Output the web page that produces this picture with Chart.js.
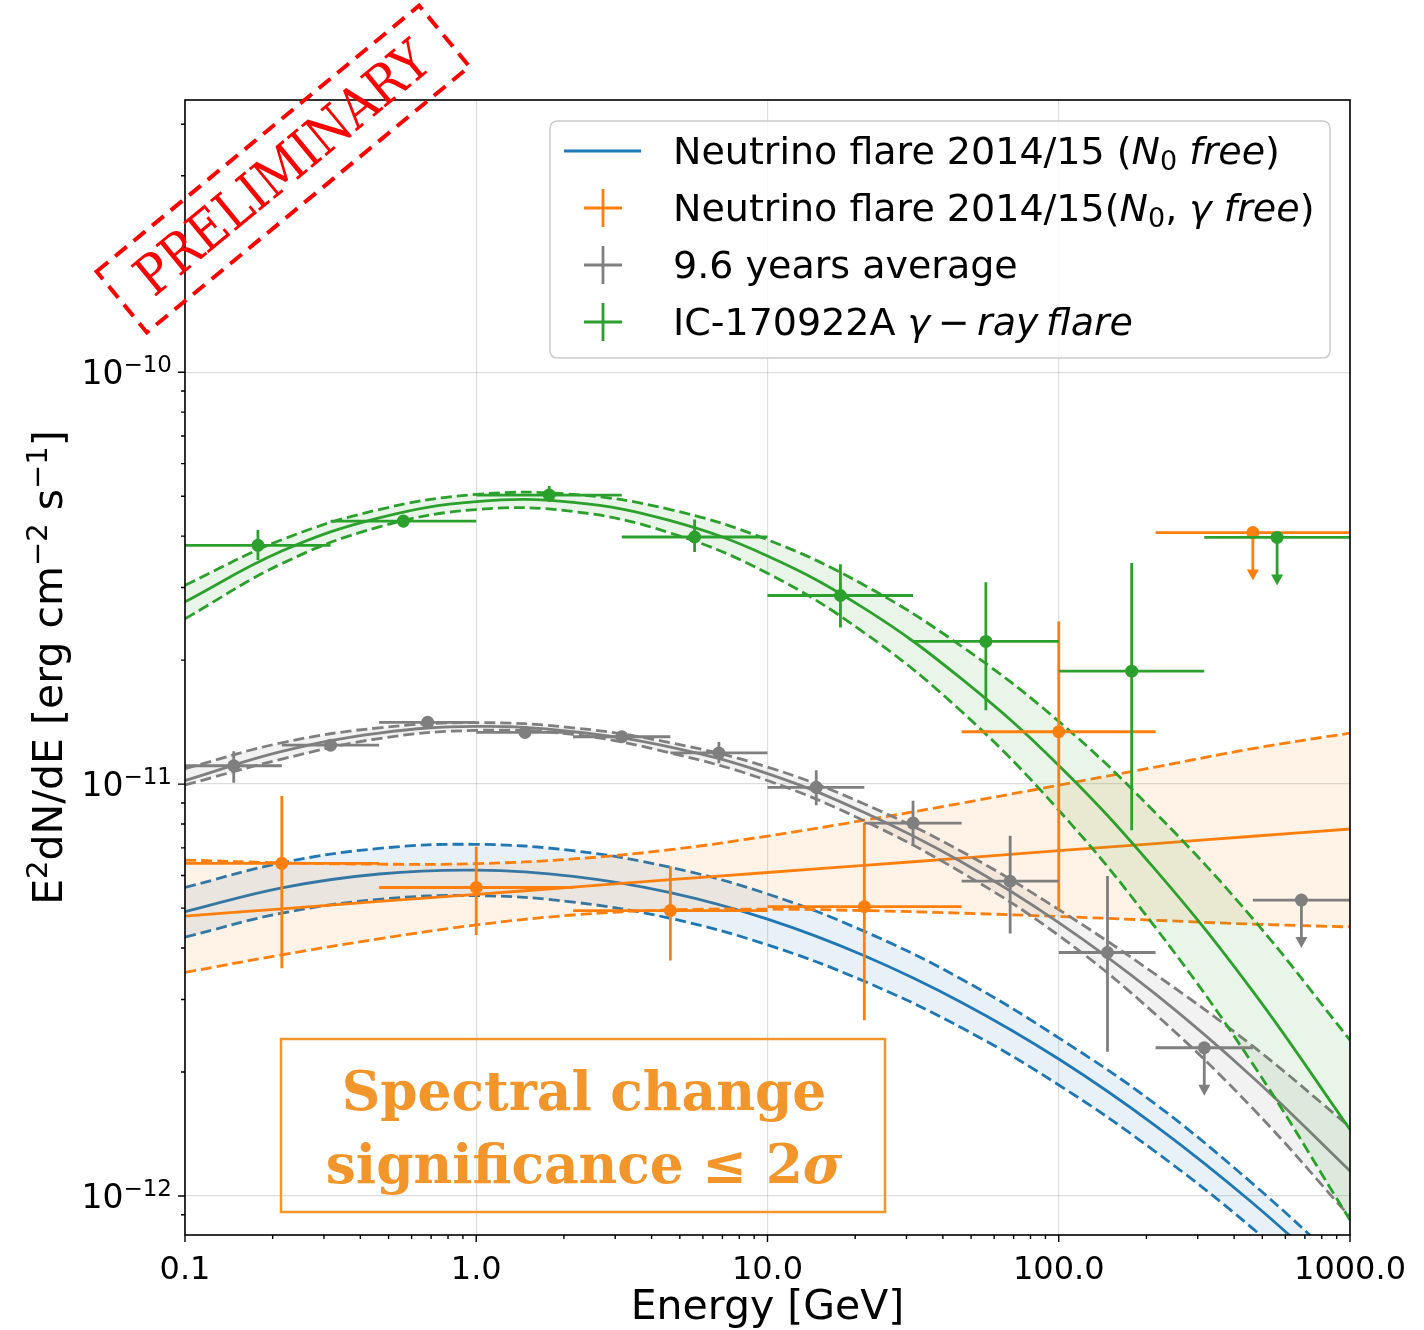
<!DOCTYPE html>
<html>
<head>
<meta charset="utf-8">
<script src="https://cdn.jsdelivr.net/npm/chart.js@4.4.1/dist/chart.umd.min.js"></script>
<style>
  body { margin: 0; background: #fff; }
  canvas { display: block; }
</style>
</head>
<body>
<canvas id="sedChart" width="1424" height="1330"></canvas>
<script>
var sampleE = [0.1, 0.215, 0.464, 1, 2.15, 4.64, 10, 21.5, 46.4, 100, 215, 464, 1000];

// fitted spectra (erg cm-2 s-1): best fit, upper and lower edge of the band
var greenFit   = [2.77e-11, 3.68e-11, 4.43e-11, 4.85e-11, 4.83e-11, 4.36e-11, 3.58e-11, 2.67e-11, 1.80e-11, 1.11e-11, 6.19e-12, 3.14e-12, 1.45e-12];
var greenFitHi = [3.04e-11, 3.92e-11, 4.64e-11, 5.05e-11, 5.05e-11, 4.64e-11, 3.92e-11, 3.04e-11, 2.16e-11, 1.42e-11, 8.51e-12, 4.71e-12, 2.39e-12];
var greenFitLo = [2.52e-11, 3.43e-11, 4.21e-11, 4.64e-11, 4.59e-11, 4.07e-11, 3.25e-11, 2.33e-11, 1.50e-11, 8.64e-12, 4.48e-12, 2.09e-12, 8.74e-13];

var grayFit    = [1.02e-11, 1.20e-11, 1.33e-11, 1.38e-11, 1.34e-11, 1.23e-11, 1.06e-11, 8.53e-12, 6.47e-12, 4.61e-12, 3.09e-12, 1.94e-12, 1.15e-12];
var grayFitHi  = [1.09e-11, 1.26e-11, 1.37e-11, 1.41e-11, 1.37e-11, 1.26e-11, 1.10e-11, 8.95e-12, 6.86e-12, 4.96e-12, 3.45e-12, 2.31e-12, 1.47e-12];
var grayFitLo  = [9.95e-12, 1.15e-11, 1.29e-11, 1.35e-11, 1.32e-11, 1.19e-11, 1.02e-11, 8.14e-12, 6.10e-12, 4.29e-12, 2.76e-12, 1.63e-12, 8.90e-13];

var blueFit    = [4.90e-12, 5.60e-12, 6.05e-12, 6.18e-12, 5.97e-12, 5.45e-12, 4.70e-12, 3.83e-12, 2.95e-12, 2.15e-12, 1.48e-12, 9.60e-13, 5.90e-13];
var blueFitHi  = [5.61e-12, 6.44e-12, 6.98e-12, 7.14e-12, 6.89e-12, 6.28e-12, 5.41e-12, 4.39e-12, 3.36e-12, 2.42e-12, 1.67e-12, 1.07e-12, 6.54e-13];
var blueFitLo  = [4.25e-12, 4.86e-12, 5.25e-12, 5.36e-12, 5.17e-12, 4.72e-12, 4.07e-12, 3.32e-12, 2.56e-12, 1.86e-12, 1.28e-12, 8.33e-13, 5.12e-13];

var orangeFit   = [4.78e-12, 4.98e-12, 5.19e-12, 5.40e-12, 5.62e-12, 5.86e-12, 6.10e-12, 6.35e-12, 6.61e-12, 6.89e-12, 7.17e-12, 7.47e-12, 7.78e-12];
var orangeFitHi = [6.54e-12, 6.44e-12, 6.39e-12, 6.41e-12, 6.58e-12, 6.93e-12, 7.48e-12, 8.17e-12, 8.99e-12, 9.94e-12, 1.10e-11, 1.22e-11, 1.33e-11];
var orangeFitLo = [3.49e-12, 3.85e-12, 4.21e-12, 4.55e-12, 4.81e-12, 4.95e-12, 4.97e-12, 4.93e-12, 4.86e-12, 4.77e-12, 4.67e-12, 4.57e-12, 4.50e-12];

// flux points: bin centre, bin edges, flux and error bar ends
var greenE      = [0.178, 0.562, 1.78, 5.62, 17.8, 56.2, 178];
var greenELo    = [0.1, 0.316, 1, 3.16, 10, 31.6, 100];
var greenEHi    = [0.316, 1, 3.16, 10, 31.6, 100, 316];
var greenFlux   = [3.80e-11, 4.35e-11, 5.03e-11, 3.98e-11, 2.87e-11, 2.22e-11, 1.88e-11];
var greenFluxLo = [3.50e-11, 4.20e-11, 4.84e-11, 3.66e-11, 2.40e-11, 1.51e-11, 7.73e-12];
var greenFluxHi = [4.14e-11, 4.50e-11, 5.29e-11, 4.39e-11, 3.42e-11, 3.09e-11, 3.44e-11];
var greenUlE = [562], greenUlELo = [316], greenUlEHi = [1000], greenUl = [3.97e-11];

var orangeE      = [0.215, 1.0, 4.64, 21.5, 100];
var orangeELo    = [0.1, 0.464, 2.15, 10, 46.4];
var orangeEHi    = [0.464, 2.15, 10, 46.4, 215];
var orangeFlux   = [6.42e-12, 5.61e-12, 4.93e-12, 5.04e-12, 1.34e-11];
var orangeFluxLo = [3.57e-12, 4.30e-12, 3.73e-12, 2.67e-12, 4.93e-12];
var orangeFluxHi = [9.35e-12, 7.04e-12, 6.32e-12, 8.05e-12, 2.48e-11];
var orangeUlE = [464], orangeUlELo = [215], orangeUlEHi = [1000], orangeUl = [4.08e-11];

var grayE      = [0.147, 0.316, 0.681, 1.47, 3.16, 6.81, 14.7, 31.6, 68.1, 147];
var grayELo    = [0.1, 0.215, 0.464, 1, 2.15, 4.64, 10, 21.5, 46.4, 100];
var grayEHi    = [0.215, 0.464, 1, 2.15, 4.64, 10, 21.5, 46.4, 100, 215];
var grayFlux   = [1.108e-11, 1.243e-11, 1.412e-11, 1.335e-11, 1.303e-11, 1.19e-11, 9.82e-12, 8.04e-12, 5.81e-12, 3.90e-12];
var grayFluxLo = [1.007e-11, 1.21e-11, 1.38e-11, 1.30e-11, 1.27e-11, 1.124e-11, 8.89e-12, 7.09e-12, 4.34e-12, 2.24e-12];
var grayFluxHi = [1.202e-11, 1.28e-11, 1.46e-11, 1.37e-11, 1.33e-11, 1.266e-11, 1.081e-11, 9.11e-12, 7.49e-12, 5.98e-12];
var grayUlE = [316, 681], grayUlELo = [215, 464], grayUlEHi = [464, 1000], grayUl = [2.29e-12, 5.23e-12];

// axes
var xTicks = [0.1, 1, 10, 100, 1000];
var xTickLabels = ['0.1', '1.0', '10.0', '100.0', '1000.0'];
var yTicks = [1e-12, 1e-11, 1e-10];
var yTickExp = ['\u221212', '\u221211', '\u221210'];
var yMin = 8.04e-13, yMax = 4.58e-10;

var cBlue = '#1f77b4', cOrange = '#ff7f0e', cGray = '#7f7f7f', cGreen = '#2ca02c';
var sans = '"DejaVu Sans", sans-serif';

function curve(ys, color, dashed, fillColor) {
    return {
        data: sampleE.map(function (e, i) { return { x: e, y: ys[i] }; }),
        borderColor: color,
        borderWidth: 2.8,
        borderDash: dashed ? [11, 5] : [],
        pointRadius: 0,
        tension: 0.4,
        fill: fillColor ? '+1' : false,
        backgroundColor: fillColor || 'transparent'
    };
}

// first dataset is drawn on top
var datasets = [
    curve(greenFit, cGreen, false),
    curve(greenFitHi, cGreen, true, 'rgba(44,160,44,0.1)'),
    curve(greenFitLo, cGreen, true),
    curve(grayFit, cGray, false),
    curve(grayFitHi, cGray, true, 'rgba(127,127,127,0.1)'),
    curve(grayFitLo, cGray, true),
    curve(orangeFit, cOrange, false),
    curve(orangeFitHi, cOrange, true, 'rgba(255,127,14,0.1)'),
    curve(orangeFitLo, cOrange, true),
    curve(blueFit, cBlue, false),
    curve(blueFitHi, cBlue, true, 'rgba(31,119,180,0.1)'),
    curve(blueFitLo, cBlue, true)
];

// write a line made of several font runs
function runs(ctx, parts, x, y, align) {
    var w = 0;
    parts.forEach(function (p) { ctx.font = p.f; p.w = ctx.measureText(p.t).width; w += p.w; });
    var cx = align === 'center' ? x - w / 2 : (align === 'right' ? x - w : x);
    ctx.textAlign = 'left';
    ctx.textBaseline = 'alphabetic';
    parts.forEach(function (p) { ctx.font = p.f; ctx.fillText(p.t, cx, y + (p.dy || 0)); cx += p.w; });
}

function errSeries(ctx, xs, ys, E, eLo, eHi, f, fLo, fHi, color) {
    ctx.strokeStyle = color; ctx.fillStyle = color; ctx.lineWidth = 2.8;
    for (var i = 0; i < E.length; i++) {
        var px = xs.getPixelForValue(E[i]), py = ys.getPixelForValue(f[i]);
        ctx.beginPath();
        ctx.moveTo(xs.getPixelForValue(eLo[i]), py); ctx.lineTo(xs.getPixelForValue(eHi[i]), py);
        ctx.moveTo(px, ys.getPixelForValue(fLo[i])); ctx.lineTo(px, ys.getPixelForValue(fHi[i]));
        ctx.stroke();
        ctx.beginPath(); ctx.arc(px, py, 6.5, 0, Math.PI * 2); ctx.fill();
    }
}

function ulSeries(ctx, xs, ys, E, eLo, eHi, f, color) {
    ctx.strokeStyle = color; ctx.fillStyle = color; ctx.lineWidth = 2.8;
    for (var i = 0; i < E.length; i++) {
        var px = xs.getPixelForValue(E[i]), py = ys.getPixelForValue(f[i]);
        ctx.beginPath();
        ctx.moveTo(xs.getPixelForValue(eLo[i]), py); ctx.lineTo(xs.getPixelForValue(eHi[i]), py);
        ctx.moveTo(px, py); ctx.lineTo(px, py + 40);
        ctx.stroke();
        ctx.beginPath();
        ctx.moveTo(px - 6, py + 37); ctx.lineTo(px + 6, py + 37); ctx.lineTo(px, py + 48);
        ctx.closePath(); ctx.fill();
        ctx.beginPath(); ctx.arc(px, py, 6.5, 0, Math.PI * 2); ctx.fill();
    }
}

var decor = {
    id: 'decor',
    afterDatasetsDraw: function (chart) {
        var ctx = chart.ctx, xs = chart.scales.x, ys = chart.scales.y, a = chart.chartArea;
        ctx.save();
        ctx.beginPath(); ctx.rect(a.left, a.top, a.right - a.left, a.bottom - a.top); ctx.clip();
        errSeries(ctx, xs, ys, orangeE, orangeELo, orangeEHi, orangeFlux, orangeFluxLo, orangeFluxHi, cOrange);
        ulSeries(ctx, xs, ys, orangeUlE, orangeUlELo, orangeUlEHi, orangeUl, cOrange);
        errSeries(ctx, xs, ys, grayE, grayELo, grayEHi, grayFlux, grayFluxLo, grayFluxHi, cGray);
        ulSeries(ctx, xs, ys, grayUlE, grayUlELo, grayUlEHi, grayUl, cGray);
        errSeries(ctx, xs, ys, greenE, greenELo, greenEHi, greenFlux, greenFluxLo, greenFluxHi, cGreen);
        ulSeries(ctx, xs, ys, greenUlE, greenUlELo, greenUlEHi, greenUl, cGreen);
        ctx.restore();
    },
    afterDraw: function (chart) {
        var ctx = chart.ctx, xs = chart.scales.x, ys = chart.scales.y, a = chart.chartArea;
        ctx.save();

        // frame
        ctx.strokeStyle = '#000'; ctx.lineWidth = 1.6;
        ctx.strokeRect(a.left, a.top, a.right - a.left, a.bottom - a.top);

        // tick marks
        ctx.lineWidth = 1.4;
        ctx.beginPath();
        [0.1, 1, 10, 100].forEach(function (d) {
            for (var k = 1; k <= 9; k++) {
                var px = xs.getPixelForValue(k * d), len = k === 1 ? 7 : 4;
                ctx.moveTo(px, a.bottom); ctx.lineTo(px, a.bottom + len);
            }
        });
        ctx.moveTo(a.right, a.bottom); ctx.lineTo(a.right, a.bottom + 7);
        [1e-13, 1e-12, 1e-11, 1e-10].forEach(function (d) {
            for (var k = 1; k <= 9; k++) {
                var v = k * d;
                if (v < yMin || v > yMax) continue;
                var py = ys.getPixelForValue(v), len = k === 1 ? 7 : 4;
                ctx.moveTo(a.left, py); ctx.lineTo(a.left - len, py);
            }
        });
        ctx.stroke();

        // tick labels
        ctx.fillStyle = '#000';
        xTicks.forEach(function (v, i) {
            runs(ctx, [{ t: xTickLabels[i], f: '32px ' + sans }], xs.getPixelForValue(v), 1279, 'center');
        });
        yTicks.forEach(function (v, i) {
            var py = ys.getPixelForValue(v);
            runs(ctx, [{ t: '10', f: '33px ' + sans }, { t: yTickExp[i], f: '23px ' + sans, dy: -12 }], 172, py + 12, 'right');
        });

        // axis titles
        runs(ctx, [{ t: 'Energy [GeV]', f: '41px ' + sans }], (a.left + a.right) / 2, 1319, 'center');
        ctx.save();
        ctx.translate(62, (a.top + a.bottom) / 2);
        ctx.rotate(-Math.PI / 2);
        var big = '41px ' + sans, sup = '29px ' + sans;
        runs(ctx, [
            { t: 'E', f: big }, { t: '2', f: sup, dy: -15 }, { t: 'dN/dE [erg cm', f: big },
            { t: '\u22122', f: sup, dy: -15 }, { t: ' s', f: big }, { t: '\u22121', f: sup, dy: -15 }, { t: ']', f: big }
        ], 0, 0, 'center');
        ctx.restore();

        // legend
        var lx = 550, ly = 121, lw = 780, lh = 237, r = 8;
        ctx.beginPath();
        ctx.moveTo(lx + r, ly); ctx.lineTo(lx + lw - r, ly); ctx.quadraticCurveTo(lx + lw, ly, lx + lw, ly + r);
        ctx.lineTo(lx + lw, ly + lh - r); ctx.quadraticCurveTo(lx + lw, ly + lh, lx + lw - r, ly + lh);
        ctx.lineTo(lx + r, ly + lh); ctx.quadraticCurveTo(lx, ly + lh, lx, ly + lh - r);
        ctx.lineTo(lx, ly + r); ctx.quadraticCurveTo(lx, ly, lx + r, ly);
        ctx.closePath();
        ctx.fillStyle = 'rgba(255,255,255,0.8)'; ctx.fill();
        ctx.strokeStyle = '#cccccc'; ctx.lineWidth = 1.5; ctx.stroke();

        var rowY = [151, 208, 265, 322];
        ctx.lineWidth = 2.8;
        ctx.strokeStyle = cBlue;
        ctx.beginPath(); ctx.moveTo(564, rowY[0]); ctx.lineTo(641, rowY[0]); ctx.stroke();
        [cOrange, cGray, cGreen].forEach(function (c, i) {
            var y = rowY[i + 1];
            ctx.strokeStyle = c;
            ctx.beginPath();
            ctx.moveTo(584, y); ctx.lineTo(622, y);
            ctx.moveTo(603, y - 19); ctx.lineTo(603, y + 19);
            ctx.stroke();
        });
        var lf = '38px ' + sans, li = 'italic 38px ' + sans, ls = '27px ' + sans;
        ctx.fillStyle = '#000';
        runs(ctx, [{ t: 'Neutrino flare 2014/15 (', f: lf }, { t: 'N', f: li }, { t: '0', f: ls, dy: 6 },
            { t: ' ', f: lf }, { t: 'free', f: li }, { t: ')', f: lf }], 673, rowY[0] + 13, 'left');
        runs(ctx, [{ t: 'Neutrino flare 2014/15(', f: lf }, { t: 'N', f: li }, { t: '0', f: ls, dy: 6 },
            { t: ', ', f: lf }, { t: '\u03b3', f: li }, { t: ' ', f: lf }, { t: 'free', f: li }, { t: ')', f: lf }], 673, rowY[1] + 13, 'left');
        runs(ctx, [{ t: '9.6 years average', f: lf }], 673, rowY[2] + 13, 'left');
        runs(ctx, [{ t: 'IC-170922A ', f: lf }, { t: '\u03b3', f: li }, { t: '\u2009\u2212\u2009', f: lf },
            { t: 'ray\u2009flare', f: li }], 673, rowY[3] + 13, 'left');

        // significance box
        var boxColor = '#f2962c';
        ctx.strokeStyle = boxColor; ctx.lineWidth = 2.5;
        ctx.strokeRect(281, 1039, 604, 173);
        var serif = '"DejaVu Serif", serif';
        ctx.font = 'bold 100px ' + serif;
        var sz = 100 * 485 / ctx.measureText('Spectral change').width;
        ctx.fillStyle = boxColor;
        runs(ctx, [{ t: 'Spectral change', f: 'bold ' + sz.toFixed(1) + 'px ' + serif }], 584, 1110, 'center');
        runs(ctx, [{ t: 'significance \u2264 2', f: 'bold ' + sz.toFixed(1) + 'px ' + serif },
            { t: '\u03c3', f: 'bold italic ' + sz.toFixed(1) + 'px ' + serif }], 584, 1183, 'center');

        // preliminary stamp
        ctx.save();
        ctx.translate(283, 169);
        ctx.rotate(-39.5 * Math.PI / 180);
        ctx.strokeStyle = '#ff0000'; ctx.lineWidth = 4; ctx.setLineDash([15, 9]);
        ctx.strokeRect(-209, -39.5, 418, 79);
        ctx.setLineDash([]);
        var stampFont = '"DejaVu Serif", serif';
        ctx.font = '100px ' + stampFont;
        var ps = 100 * 363 / ctx.measureText('PRELIMINARY').width;
        ctx.fillStyle = '#ff0000';
        ctx.scale(1, 1.15);
        runs(ctx, [{ t: 'PRELIMINARY', f: ps.toFixed(1) + 'px ' + stampFont }], 0, ps * 0.32, 'center');
        ctx.restore();

        ctx.restore();
    }
};

var ctx = document.getElementById('sedChart').getContext('2d');
var sedChart = new Chart(ctx, {
    type: 'line',
    data: { datasets: datasets },
    options: {
        responsive: false,
        animation: false,
        devicePixelRatio: 1,
        layout: { padding: { top: 100, right: 74, left: 0, bottom: 0 } },
        plugins: { legend: { display: false }, tooltip: { enabled: false } },
        scales: {
            x: {
                type: 'logarithmic', min: 0.1, max: 1000,
                afterBuildTicks: function (s) { s.ticks = xTicks.map(function (v) { return { value: v }; }); },
                afterFit: function (s) { s.height = 95; },
                ticks: { display: false },
                grid: { color: 'rgba(0,0,0,0.13)', lineWidth: 1.2, drawTicks: false },
                border: { display: false }
            },
            y: {
                type: 'logarithmic', min: yMin, max: yMax,
                afterBuildTicks: function (s) { s.ticks = yTicks.map(function (v) { return { value: v }; }); },
                afterFit: function (s) { s.width = 185; },
                ticks: { display: false },
                grid: { color: 'rgba(0,0,0,0.13)', lineWidth: 1.2, drawTicks: false },
                border: { display: false }
            }
        }
    },
    plugins: [decor]
});
</script>
</body>
</html>
